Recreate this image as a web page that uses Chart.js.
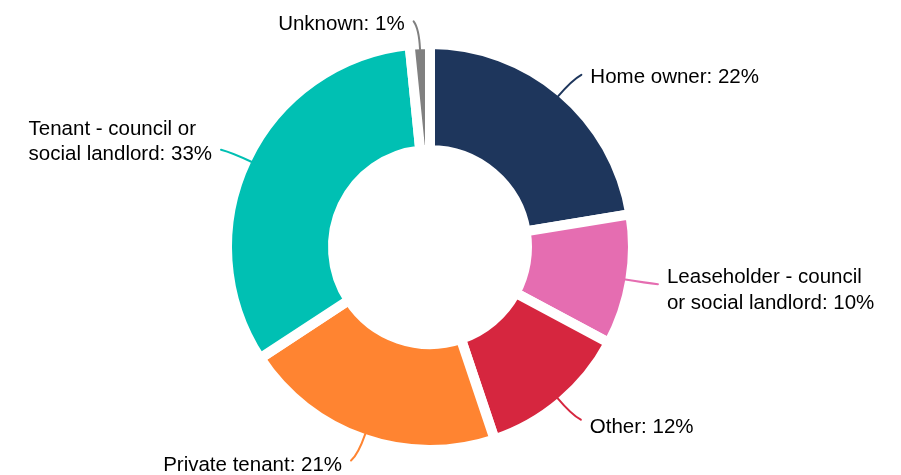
<!DOCTYPE html>
<html>
<head>
<meta charset="utf-8">
<script src="https://cdn.jsdelivr.net/npm/chart.js@4"></script>
<style>
  html, body { margin: 0; padding: 0; background: #ffffff; }
  #wrap { width: 901px; height: 475px; }
</style>
</head>
<body>
<div id="wrap"><canvas id="myChart" width="901" height="475"></canvas></div>
<script>
// Categories and values (share of respondents, %)
const categories = ['Home owner', 'Leaseholder - council or social landlord', 'Other', 'Private tenant', 'Tenant - council or social landlord', 'Unknown'];
const values = [22.4, 10.4, 12.0, 20.9, 32.6, 1.6];
const shownPercent = [22, 10, 12, 21, 33, 1];
const colors = ['#1e365c', '#e56db1', '#d6263f', '#ff8431', '#00c0b3', '#808080'];

// Function to wrap a label into lines no wider than maxWidth
function wrapText(ctx, text, maxWidth) {
    const words = text.split(' ');
    let lines = [];
    let currentLine = words[0];
    for (let i = 1; i < words.length; i++) {
        const test = currentLine + ' ' + words[i];
        if (ctx.measureText(test).width <= maxWidth) {
            currentLine = test;
        } else {
            lines.push(currentLine);
            currentLine = words[i];
        }
    }
    lines.push(currentLine);
    return lines;
}

// Draws the curved connectors and the outside labels
const outsideLabels = {
    id: 'outsideLabels',
    afterDraw(chart, args, opts) {
        const ctx = chart.ctx;
        const meta = chart.getDatasetMeta(0);
        const gap = opts.gap;
        ctx.save();
        ctx.font = opts.font;
        ctx.textBaseline = 'middle';
        ctx.textAlign = 'left';
        meta.data.forEach((arc, i) => {
            const p = arc.getProps(['x', 'y', 'startAngle', 'endAngle', 'outerRadius']);
            const mid = (p.startAngle + p.endAngle) / 2;
            const r = p.outerRadius - gap / 2;
            const cos = Math.cos(mid), sin = Math.sin(mid);
            const side = cos >= 0 ? 1 : -1;
            const sx = p.x + r * cos, sy = p.y + r * sin;
            const cx = p.x + (r + opts.length * 0.75) * cos, cy = p.y + (r + opts.length * 0.75) * sin;
            const ex = p.x + (r + opts.length) * cos + side * 5, ey = p.y + (r + opts.length) * sin;

            ctx.strokeStyle = colors[i];
            ctx.lineWidth = 2;
            ctx.lineCap = 'round';
            ctx.beginPath();
            ctx.moveTo(sx, sy);
            ctx.quadraticCurveTo(cx, cy, ex, ey);
            ctx.stroke();

            const text = categories[i] + ': ' + shownPercent[i] + '%';
            const lines = wrapText(ctx, text, opts.maxWidth);
            const blockW = Math.max(...lines.map(l => ctx.measureText(l).width));
            const lh = opts.lineHeight;
            const top = ey + opts.nudge[i] - (lines.length - 1) * lh / 2;
            const left = side > 0 ? ex + opts.pad : ex - opts.pad - blockW;
            ctx.fillStyle = '#000000';
            lines.forEach((ln, k) => {
                ctx.fillText(ln, left, top + k * lh);
            });
        });
        ctx.restore();
    }
};

const ctx = document.getElementById('myChart').getContext('2d');
const myChart = new Chart(ctx, {
    type: 'doughnut',
    data: {
        labels: categories,
        datasets: [{
            data: values,
            backgroundColor: colors,
            borderColor: '#ffffff',
            borderWidth: 10,
            hoverOffset: 0,
            offset: 0
        }]
    },
    options: {
        responsive: false,
        animation: false,
        cutout: 97,
        layout: {
            padding: { left: 0, right: 41, top: 39, bottom: 20 }
        },
        plugins: {
            legend: { display: false },
            tooltip: { enabled: false },
            outsideLabels: {
                gap: 10,
                length: 28,
                pad: 9,
                maxWidth: 212,
                lineHeight: 25.5,
                font: '20.5px "Liberation Sans", Arial, sans-serif',
                nudge: [3, 6, 8, 5, -8, 3]
            }
        }
    },
    plugins: [outsideLabels]
});
</script>
</body>
</html>
